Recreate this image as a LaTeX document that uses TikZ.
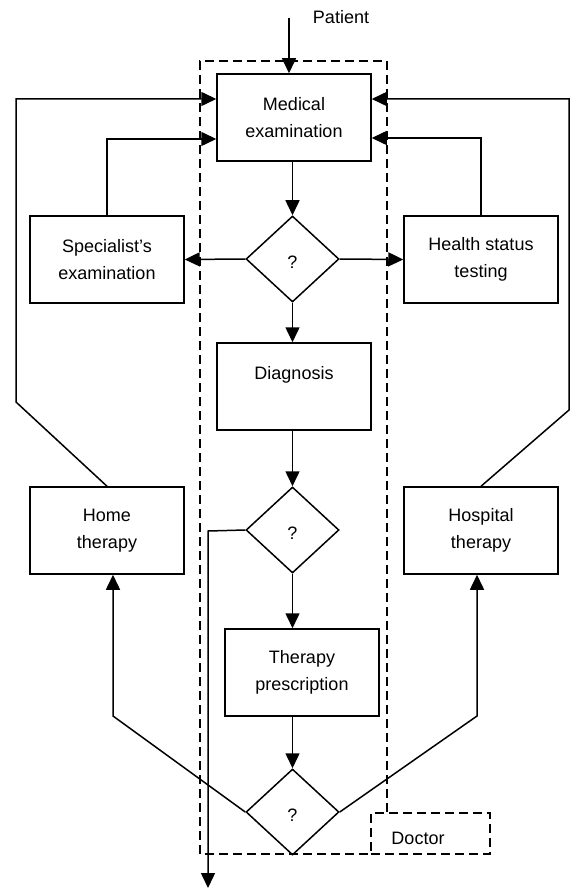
\documentclass[tikz,border=0pt]{standalone}
\usepackage{fontspec}
\setmainfont{Liberation Sans}
\usetikzlibrary{arrows.meta,shapes.geometric}
\begin{document}
\begin{tikzpicture}[x=1pt,y=-1pt,
  every node/.style={font=\fontsize{18}{26.5}\selectfont},
  box/.style={draw, line width=1.5pt, minimum width=154pt, minimum height=87pt, inner sep=0pt, align=center},
  dec/.style={draw, diamond, line width=1.5pt, minimum width=93pt, minimum height=86pt, inner sep=0pt, text height=19pt, text depth=0pt},
  arr/.style={line width=1.5pt, -{Triangle[length=15pt,width=14pt]}},
  frame/.style={line width=1.5pt, dash pattern=on 9pt off 5pt}]
\useasboundingbox (0,0) rectangle (570,890);

% nodes
\node[box] (med) at (294,117.5) {Medical\\examination};
\node[box] (diag) at (294,386.5) {Diagnosis\\\mbox{}};
\node[box] (ther) at (302,672.5) {Therapy\\prescription};
\node[box] (spec) at (107,259.5) {Specialist's\\examination};
\node[box] (health) at (481,259.5) {Health status\\testing};
\node[box] (home) at (107,530.5) {Home\\therapy};
\node[box] (hosp) at (481,530.5) {Hospital\\therapy};
\node[dec] (d1) at (292.5,259) {?};
\node[dec] (d2) at (292.5,530) {?};
\node[dec] (d3) at (292.5,812) {?};
\node (patient) at (341,17) {Patient};
\node[draw, frame, minimum width=119pt, minimum height=41pt, inner sep=0pt] (doctor) at (430.5,833.5) {};
\node (doctorlabel) at (418,838) {Doctor};

% coordinates
\coordinate (P0) at (289,18);
\coordinate (L1) at (16,402);
\coordinate (L2) at (16,99);
\coordinate (R1) at (569,410);
\coordinate (R2) at (569,99);
\coordinate (B1) at (208,531);
\coordinate (B2) at (208,888);
\coordinate (HL) at (113,716);
\coordinate (HR) at (477,716);
\coordinate (F1) at (387,812);
\coordinate (F2) at (387,61);
\coordinate (F3) at (200,61);
\coordinate (F4) at (200,854);
\coordinate (F5) at (371,854);

% doctor frame
\draw[frame] (F1) -- (F2) -- (F3) -- (F4) -- (F5);

% connectors
\draw[arr] (P0) -- (P0 |- med.north);
\draw[arr] (med.south -| d1.north) -- (d1.north);
\draw[arr] (d1.west) -- (spec.east);
\draw[arr] (d1.east) -- (health.west);
\draw[arr] (spec.north) |- ([yshift=-21.5pt]med.west);
\draw[arr] (health.north) |- ([yshift=-20.5pt]med.east);
\draw[arr] (home.north) -- (L1) -- (L2) -- (L2 -| med.west);
\draw[arr] (hosp.north) -- (R1) -- (R2) -- (R2 -| med.east);
\draw[arr] (d1.south) -- (d1.south |- diag.north);
\draw[arr] (d2.north |- diag.south) -- (d2.north);
\draw[arr] (d2.south) -- (d2.south |- ther.north);
\draw[arr] (d3.north |- ther.south) -- (d3.north);
\draw[arr] (d2.west) -- (B1) -- (B2);
\draw[arr] (d3.west) -- (HL) -- (HL |- home.south);
\draw[arr] (d3.east) -- (HR) -- (HR |- hosp.south);
\end{tikzpicture}
\end{document}
